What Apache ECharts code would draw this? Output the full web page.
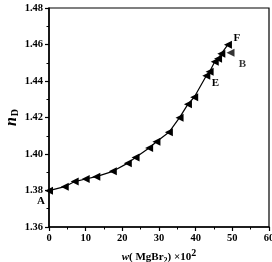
<!DOCTYPE html>
<html><head><meta charset="utf-8">
<script src="https://cdn.jsdelivr.net/npm/echarts@6/dist/echarts.min.js"></script>
<style>html,body{margin:0;padding:0;background:#fff}#c{width:272px;height:262px}</style>
</head><body><div id="c"></div>
<script>
// Main curve A -> F
const wValues = [0, 4.3, 7.0, 10.0, 12.9, 17.4, 21.5, 23.6, 27.3, 29.3, 32.7, 35.6, 37.9, 39.6, 42.9, 43.8, 45.2, 46.1, 47.0, 48.8];
const nValues = [1.3799, 1.3821, 1.3849, 1.3863, 1.3876, 1.3905, 1.3950, 1.3981, 1.4033, 1.4067, 1.4119, 1.4199, 1.4273, 1.4311, 1.4429, 1.4451, 1.4506, 1.4522, 1.4550, 1.4599];
// Point B
const wB = [49.5];
const nB = [1.4555];
// Point labels (index in main curve -> text)
const curveLabels = {0: 'A', 14: 'E', 19: 'F'};
const bLabel = 'B';
const xTicks = [0, 10, 20, 30, 40, 50, 60];
const yTicks = [1.36, 1.38, 1.40, 1.42, 1.44, 1.46, 1.48];

const font = '"Liberation Serif","Times New Roman",serif';
const labelOffsets = {A: [-8, 10], E: [9, 7], F: [9, -7], B: [12, 11]};
function lbl(t) {
  return {show: true, formatter: t, position: 'inside', offset: labelOffsets[t],
    color: '#000', fontFamily: font, fontWeight: 'bold', fontSize: 11, rotate: 0};
}
const mainData = wValues.map((w, i) => {
  const d = {value: [w, nValues[i]]};
  if (curveLabels[i]) d.label = lbl(curveLabels[i]);
  return d;
});
const bData = wB.map((w, i) => ({value: [w, nB[i]], label: lbl(bLabel)}));

const chart = echarts.init(document.getElementById('c'), null, {renderer: 'canvas'});
const axisText = {color: '#000', fontFamily: font, fontWeight: 'bold', fontSize: 10.5};
chart.setOption({
  animation: false,
  grid: {left: 49, right: 3, top: 8, bottom: 35, containLabel: false, outerBoundsMode: 'none',
    show: true, borderColor: '#000', borderWidth: 1.2, backgroundColor: 'transparent'},
  xAxis: {
    type: 'value', min: xTicks[0], max: xTicks[xTicks.length - 1], interval: 10,
    axisLine: {show: true, onZero: false, lineStyle: {color: '#000', width: 1.5}},
    axisTick: {show: true, inside: false, length: 4, lineStyle: {color: '#000', width: 1.2}},
    minorTick: {show: true, splitNumber: 2, length: 2.5, lineStyle: {color: '#000', width: 1}},
    splitLine: {show: false},
    axisLabel: Object.assign({margin: 6}, axisText),
    name: '{i|w}{t|( MgBr}{sub|2}{t|) ×10}{sup|2}',
    nameLocation: 'middle', nameGap: 17,
    nameTextStyle: {color: '#000', fontFamily: font, fontWeight: 'bold', fontSize: 11,
      rich: {
        i: {fontFamily: font, fontStyle: 'italic', fontWeight: 'bold', fontSize: 11, color: '#000'},
        t: {fontFamily: font, fontWeight: 'bold', fontSize: 11, color: '#000'},
        sub: {fontFamily: font, fontWeight: 'bold', fontSize: 8, color: '#000', verticalAlign: 'bottom', padding: [5, 0, 0, 0]},
        sup: {fontFamily: font, fontWeight: 'bold', fontSize: 10, color: '#000', verticalAlign: 'top', padding: [0, 0, 6, 0]}
      }}
  },
  yAxis: {
    type: 'value', min: yTicks[0], max: yTicks[yTicks.length - 1], interval: 0.02,
    axisLine: {show: true, onZero: false, lineStyle: {color: '#000', width: 1.5}},
    axisTick: {show: true, inside: false, length: 4, lineStyle: {color: '#000', width: 1.2}},
    minorTick: {show: true, splitNumber: 2, length: 2.5, lineStyle: {color: '#000', width: 1}},
    splitLine: {show: false},
    axisLabel: Object.assign({margin: 6, formatter: v => v.toFixed(2)}, axisText),
    name: '{n|n}{d|D}',
    nameLocation: 'middle', nameGap: 29, nameRotate: 90, nameMoveOverlap: false,
    nameTextStyle: {color: '#000', fontFamily: font,
      rich: {
        n: {fontFamily: font, fontStyle: 'italic', fontWeight: 'bold', fontSize: 16, color: '#000'},
        d: {fontFamily: font, fontWeight: 'bold', fontSize: 10, color: '#000', verticalAlign: 'bottom', padding: [6, 0, 0, 1]}
      }}
  },
  series: [
    {type: 'line', data: mainData, symbol: 'triangle', symbolSize: 8, symbolRotate: 90,
      itemStyle: {color: '#000'}, lineStyle: {color: '#000', width: 1.2}, clip: false, z: 3},
    {type: 'scatter', data: bData, symbol: 'triangle', symbolSize: 8, symbolRotate: 90,
      itemStyle: {color: '#000'}, clip: false, z: 3}
  ]
});
</script></body></html>
